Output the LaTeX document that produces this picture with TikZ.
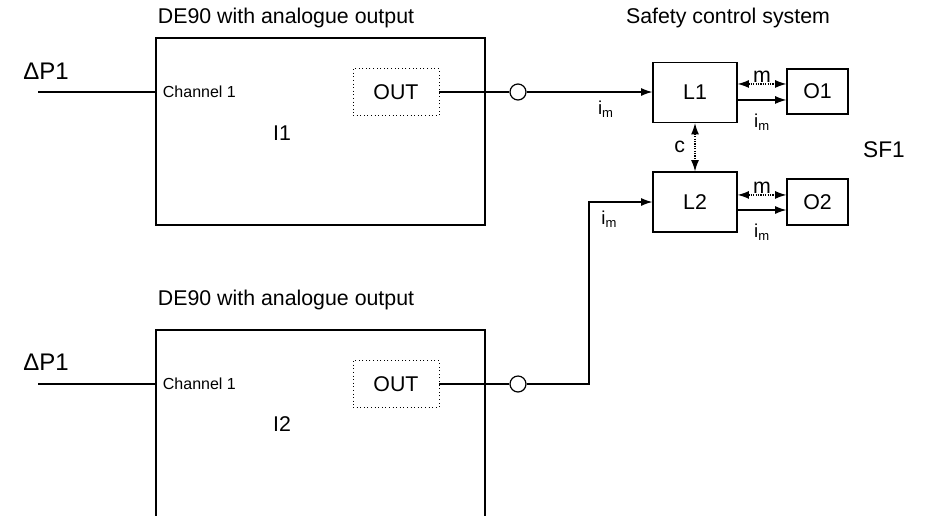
\documentclass[tikz,border=0pt]{standalone}
\usepackage{fontspec}
\setmainfont{Liberation Sans}
\usetikzlibrary{arrows.meta, calc, positioning}

\def\pxu{0.75pt}

\begin{document}
\begin{tikzpicture}[x=0.75pt, y=-0.75pt, >={Latex[length=8.5pt, width=6pt]},
    line width=0.9pt,
    tieude/.style={font=\fontsize{16}{19}\selectfont, inner sep=1pt},
    nhan/.style={font=\fontsize{16}{19}\selectfont, inner sep=1pt},
    nhanto/.style={font=\fontsize{17}{20}\selectfont, inner sep=1pt},
    kenh/.style={font=\fontsize{12}{14}\selectfont, inner sep=1pt, anchor=west},
    nhannho/.style={font=\fontsize{14}{16}\selectfont, inner sep=1pt},
    chamnho/.style={dash pattern=on 0.9pt off 0.9pt},
    thietbi/.style={draw, minimum width=329*\pxu, minimum height=187*\pxu, inner sep=0pt},
    hopout/.style={draw, dotted, line width=0.7pt, minimum width=86*\pxu, minimum height=47*\pxu,
        inner sep=0pt, font=\fontsize{16}{19}\selectfont},
    khoiL/.style={draw, minimum width=84*\pxu, minimum height=60*\pxu, inner sep=0pt,
        font=\fontsize{16}{19}\selectfont},
    khoiO/.style={draw, minimum width=61*\pxu, minimum height=45*\pxu, inner sep=0pt,
        font=\fontsize{16}{19}\selectfont},
    vong/.style={draw, circle, minimum size=16*\pxu, inner sep=0pt, fill=white}]

    \clip (0,0) rectangle (930,515);

    % =================================================================
    % 1. HAI THIẾT BỊ DE90
    % =================================================================
    \node[tieude, anchor=west] (deA) at (156,18) {DE90 with analogue output};
    \node[thietbi] (I1) at (320.5,131.5) {};
    \node[nhan] (tenA) at (282,133) {I1};
    \node[kenh] (kenhA) at (161,92) {Channel 1};
    \node[hopout] (outA) at (396,92) {OUT};

    \node[tieude, anchor=west] (deB) at (156,300) {DE90 with analogue output};
    \node[thietbi, minimum height=230*\pxu] (I2) at (320.5,445) {};
    \node[nhan] (tenB) at (282,424) {I2};
    \node[kenh] (kenhB) at (161,384) {Channel 1};
    \node[hopout] (outB) at (396,384) {OUT};

    % Tín hiệu vào
    \node[nhanto, font=\fontsize{18}{21}\selectfont] (dpA) at (46,71) {ΔP1};
    \coordinate (vaoA) at (38,92);
    \draw (vaoA) -- (vaoA -| I1.west);

    \node[nhanto, font=\fontsize{18}{21}\selectfont] (dpB) at (46,362) {ΔP1};
    \coordinate (vaoB) at (38,384);
    \draw (vaoB) -- (vaoB -| I2.west);

    % =================================================================
    % 2. HỆ THỐNG ĐIỀU KHIỂN AN TOÀN
    % =================================================================
    \node[tieude] (heA) at (728,18) {Safety control system};
    \node[khoiL] (L1) at (695,92.5) {L1};
    \node[khoiL] (L2) at (695,202) {L2};
    \node[khoiO] (O1) at (817.5,91.5) {O1};
    \node[khoiO, minimum height=46*\pxu] (O2) at (817.5,202) {O2};
    \node[nhanto] (sf) at (884,150) {SF1};

    % =================================================================
    % 3. ĐƯỜNG NỐI
    % =================================================================
    \node[vong] (vongA) at (518,92) {};
    \node[vong] (vongB) at (518,384) {};
    \coordinate (gap) at (589,384);

    \draw (outA) -- (vongA);
    \draw[->] (vongA) -- (vongA -| L1.west)
        node[nhannho, pos=0.63, below=5pt] (imA) {i\textsubscript{m}};

    \draw (outB) -- (vongB);
    \draw[->] (vongB) -- (gap) |- (L2.west)
        node[nhannho, pos=0.66, below=5pt] (imB) {i\textsubscript{m}};

    % L -- O
    \draw[<->, chamnho] ([yshift=6.4pt]L1.east) -- ([yshift=6.4pt]L1.east -| O1.west)
        node[nhan, midway, above=0pt] (mA) {m};
    \draw[->] ([yshift=-5.6pt]L1.east) -- ([yshift=-5.6pt]L1.east -| O1.west)
        node[nhannho, midway, below=9pt] (imC) {i\textsubscript{m}};
    \draw[<->, chamnho] ([yshift=5.3pt]L2.east) -- ([yshift=5.3pt]L2.east -| O2.west)
        node[nhan, midway, above=0pt] (mB) {m};
    \draw[->] ([yshift=-6pt]L2.east) -- ([yshift=-6pt]L2.east -| O2.west)
        node[nhannho, midway, below=9pt] (imD) {i\textsubscript{m}};

    % L1 -- L2
    \draw[<->, chamnho] (L1) -- (L2) node[nhan, midway, left=6pt] (cc) {c};

\end{tikzpicture}
\end{document}
